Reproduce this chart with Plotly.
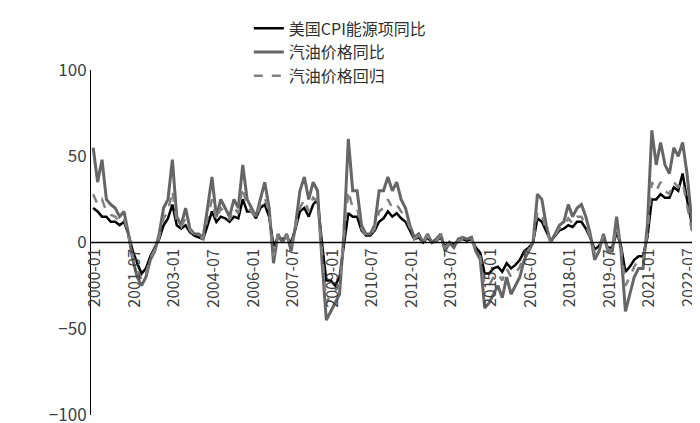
import pandas as pd
import plotly.graph_objects as go

# bimonthly points, 2000-01 .. 2022-11
dates = pd.date_range("2000-01-01", "2022-11-01", freq="2MS").strftime("%Y-%m").tolist()

gasoline = [
    55, 35, 48, 25, 22, 20,
    15, 18, 5, -10, -20, -25,
    -20, -10, -5, 5, 20, 25,
    48, 15, 10, 20, 8, 5,
    5, 3, 20, 38, 15, 25,
    20, 15, 25, 20, 45, 25,
    20, 15, 25, 35, 20, -12,
    5, 0, 5, -5, 10, 30,
    38, 25, 35, 30, -10, -45,
    -40, -35, -30, 5, 60, 30,
    30, 10, 5, 5, 10, 30,
    30, 38, 30, 35, 25, 20,
    10, 3, 5, 0, 5, 0,
    2, 5, -5, 0, -3, 2,
    3, 2, 3, -5, -10, -38,
    -35, -30, -25, -32, -20, -30,
    -25, -20, -10, -5, 0, 28,
    25, 10, 0, 5, 10, 12,
    22, 15, 20, 22, 15, 5,
    -10, -5, 5, -5, -5, 15,
    -5, -40, -30, -20, -15, -15,
    10, 65, 45, 58, 45, 40,
    55, 50, 58, 40, 15, -2,
]
cpi_energy = [
    20, 18, 15, 15, 12, 12,
    10, 12, 5, -5, -12, -18,
    -15, -8, -3, 2, 10, 14,
    22, 10, 8, 10, 6, 4,
    3, 2, 10, 18, 12, 15,
    14, 12, 15, 14, 25, 18,
    18, 14, 20, 22, 15, -2,
    3, 2, 3, 0, 8, 18,
    20, 15, 22, 25, 0, -22,
    -22, -25, -20, 0, 17, 15,
    15, 7, 4, 4, 7, 12,
    14, 18, 15, 17, 14, 12,
    7, 2, 3, 0, 3, 0,
    1, 3, -2, 0, -1, 1,
    2, 1, 2, -3, -6, -18,
    -18, -15, -14, -17, -12, -15,
    -13, -10, -5, -3, 0, 14,
    12, 6, 1, 4, 7, 8,
    10, 9, 12, 12, 8, 3,
    -4, -2, 3, -3, -3, 6,
    -2, -17, -14, -10, -8, -8,
    3, 25, 25, 28, 26, 26,
    32, 30, 40, 25, 12, 5,
]
gas_regression = [
    28, 22, 25, 18, 16, 15,
    12, 14, 4, -8, -15, -22,
    -18, -9, -4, 3, 14, 18,
    30, 12, 9, 14, 7, 4,
    4, 2, 14, 25, 13, 20,
    17, 13, 20, 17, 32, 20,
    18, 14, 22, 26, 17, -8,
    4, 1, 4, -3, 9, 20,
    25, 18, 26, 24, -5, -35,
    -30, -28, -25, 3, 30, 20,
    20, 8, 4, 4, 8, 18,
    20, 25, 20, 22, 18, 15,
    8, 2, 4, 0, 4, 0,
    1, 4, -3, 0, -2, 1,
    2, 1, 2, -4, -8, -25,
    -25, -20, -18, -22, -15, -20,
    -18, -14, -7, -4, 0, 18,
    16, 7, 0, 4, 8, 9,
    14, 11, 15, 15, 10, 3,
    -6, -3, 4, -4, -4, 9,
    -3, -25, -20, -14, -10, -10,
    5, 35, 30, 35, 30, 28,
    35, 32, 35, 22, 8, -3,
]

tick_labels = ["2000-01", "2001-07", "2003-01", "2004-07", "2006-01", "2007-07", "2009-01",
               "2010-07", "2012-01", "2013-07", "2015-01", "2016-07", "2018-01", "2019-07",
               "2021-01", "2022-07"]

font = "Noto Sans CJK SC"
fig = go.Figure()
fig.add_trace(go.Scatter(x=dates, y=cpi_energy, mode="lines", name="美国CPI能源项同比",
                         line=dict(color="#000000", width=2.5)))
fig.add_trace(go.Scatter(x=dates, y=gasoline, mode="lines", name="汽油价格同比",
                         line=dict(color="#666666", width=3)))
fig.add_trace(go.Scatter(x=dates, y=gas_regression, mode="lines", name="汽油价格回归",
                         line=dict(color="#808080", width=2.5, dash="dash")))

# x labels hang just under the zero line
for t in tick_labels:
    fig.add_annotation(x=t, y=0, xref="x", yref="y", text=t, textangle=-90, showarrow=False,
                       yanchor="top", xanchor="center", yshift=-4,
                       font=dict(family=font, size=16, color="#404040"))

fig.add_hline(y=0, line=dict(color="#000000", width=1.5))

fig.update_layout(
    width=700, height=423, plot_bgcolor="white", paper_bgcolor="white",
    margin=dict(l=83, r=10, t=62, b=16, autoexpand=False),
    font=dict(family=font, size=16, color="#404040"),
    legend=dict(x=0.26, y=1.17, xanchor="left", yanchor="top", bgcolor="rgba(0,0,0,0)",
                font=dict(size=16, color="#303030"), tracegroupgap=0),
    xaxis=dict(type="category", showticklabels=False, showgrid=False, zeroline=False,
               range=[-0.5, len(dates) - 0.5]),
    yaxis=dict(range=[-100, 100], tickvals=[-100, -50, 0, 50, 100], showgrid=False,
               zeroline=False, showline=True, linecolor="#000000", linewidth=1,
               ticks="", tickfont=dict(size=17)),
)

fig.write_html("out.html")
